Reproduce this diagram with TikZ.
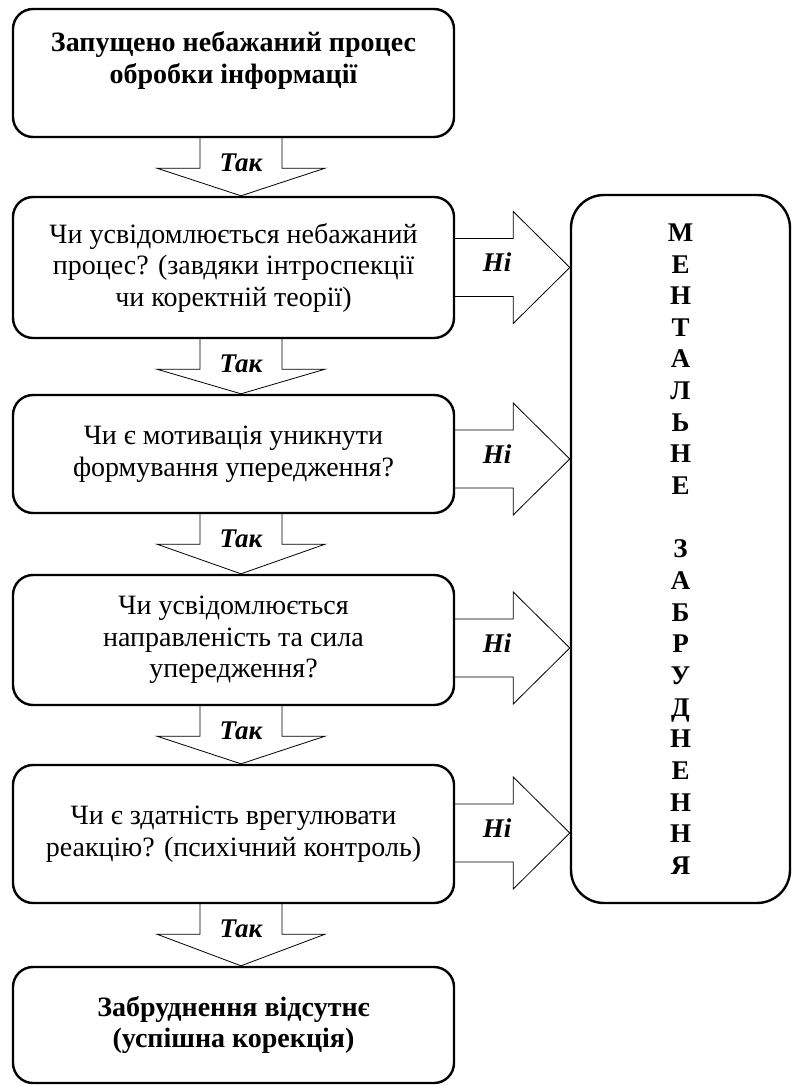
\documentclass[tikz,border=0pt]{standalone}
\usepackage{fontspec}
\setmainfont{Liberation Serif}
\usetikzlibrary{positioning,calc}

\begin{document}
\begin{tikzpicture}[x=1pt,y=1pt,
  box/.style={draw,line width=2.4pt,rounded corners=20pt,minimum width=441pt,align=center,font=\fontsize{28}{31.5}\selectfont},
  boldbox/.style={box,font=\fontsize{28}{31.5}\selectfont\bfseries},
  blockarrow/.style={draw,line width=0.8pt,line join=miter},
  lbl/.style={font=\fontsize{27}{30}\selectfont\bfseries\itshape}]
\useasboundingbox (0,0) rectangle (795,-1085);
\coordinate (ax) at (241,0);
\node[boldbox,minimum height=128pt] (A) at (233.5,-73) {Запущено небажаний процес\\обробки інформації\\~};
\node[box,minimum height=141pt] (B) at (233.5,-267.5) {Чи усвідомлюється небажаний\\процес? (завдяки інтроспекції\\чи коректній теорії)};
\node[box,minimum height=118pt] (C) at (233.5,-454) {Чи є мотивація уникнути\\формування упередження?};
\node[box,minimum height=130pt] (D) at (233.5,-640) {Чи усвідомлюється\\направленість та сила\\упередження?};
\node[box,minimum height=138pt] (E) at (233.5,-834) {Чи є здатність врегулювати\\реакцію? (психічний контроль)};
\node[boldbox,minimum height=116pt] (F) at (233.5,-1025) {Забруднення відсутнє\\(успішна корекція)};
\node[boldbox,rounded corners=33pt,minimum width=219pt,minimum height=708pt,font=\fontsize{27}{31.65}\selectfont\bfseries] (M) at (680.5,-549) {М\\Е\\Н\\Т\\А\\Л\\Ь\\Н\\Е\\~\\З\\А\\Б\\Р\\У\\Д\\Н\\Е\\Н\\Н\\Я};
% Так
\foreach \a/\b in {A/B,B/C,C/D,D/E,E/F}{
  \draw[blockarrow] ($(\a.south -| ax)+(-41,0)$) -- ++(0,-30) -- ++(-43,0) -- (\b.north -| ax) -- ($(\a.south -| ax)+(84,-30)$) -- ++(-43,0) -- ++(0,30);
  \node[lbl] (t\a) at ($(\a.south -| ax)+(0,-25)$) {Так};
}
% Ні
\foreach \b/\d in {B/0,C/-5,D/-8,E/1}{
  \coordinate (s\b) at ($(\b.east)+(0,\d)$);
  \draw[blockarrow] ($(s\b)+(0,29)$) -- ++(58,0) -- ++(0,27) -- (s\b -| M.west) -- ($(s\b)+(58,-56)$) -- ++(0,27) -- ++(-58,0);
  \node[lbl] (n\b) at ($(s\b)+(42,5)$) {Ні};
}
\end{tikzpicture}
\end{document}
